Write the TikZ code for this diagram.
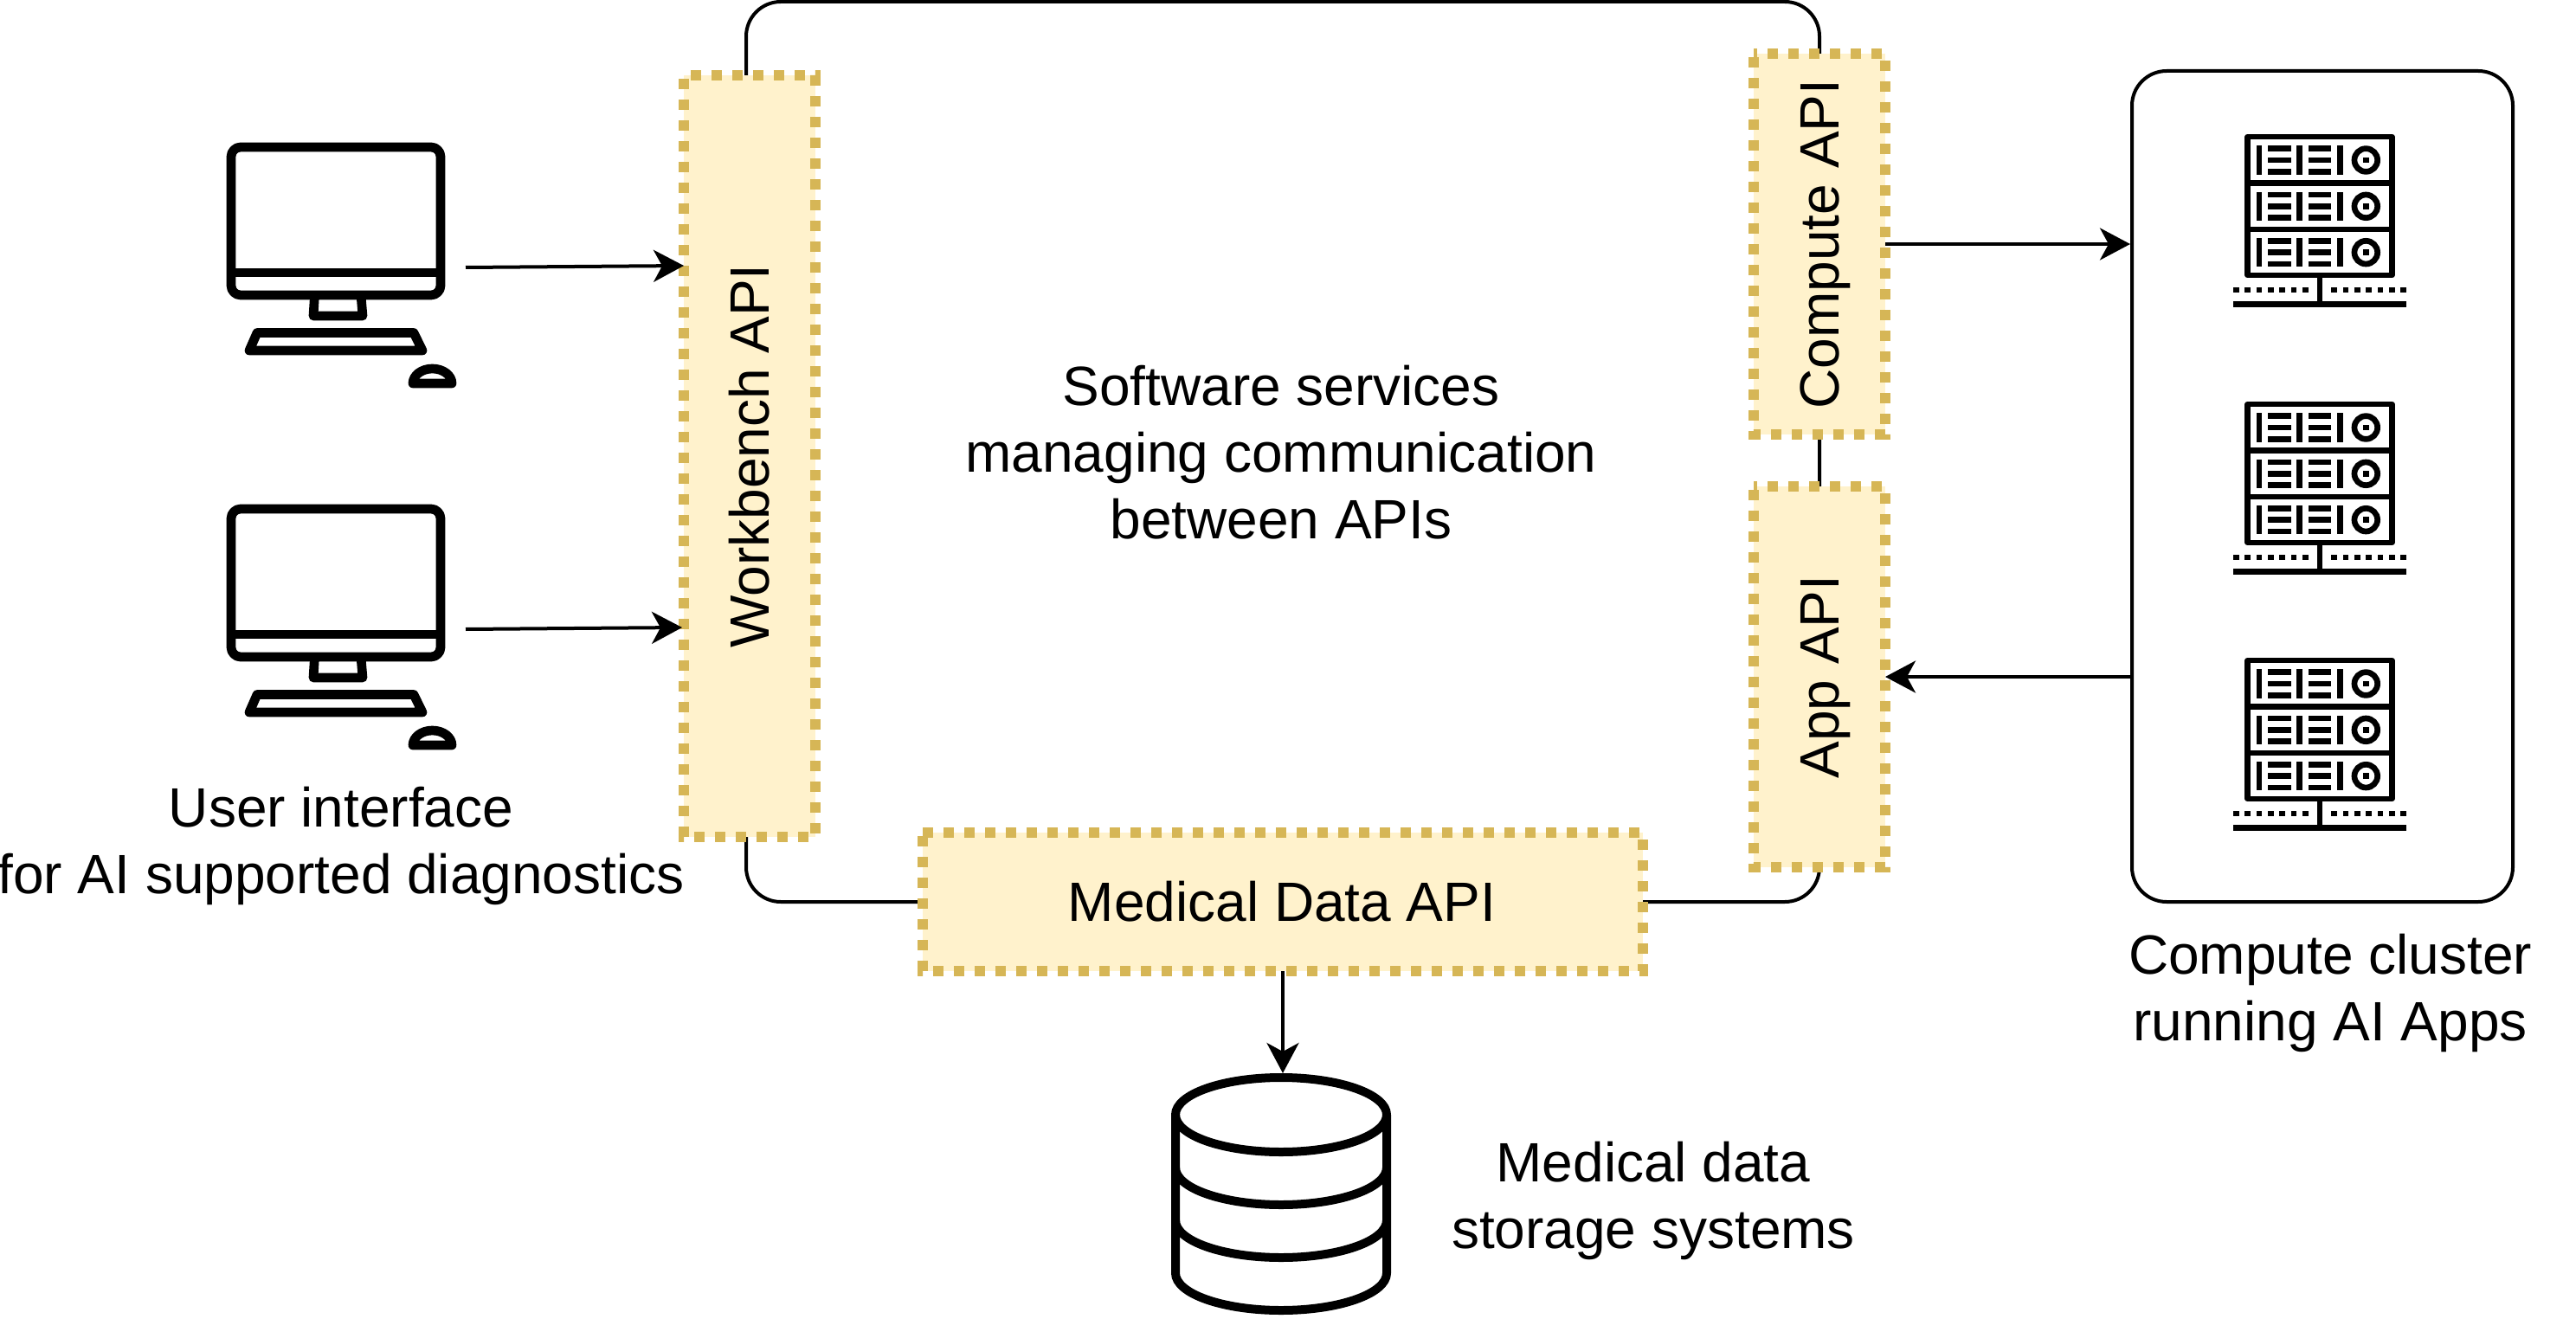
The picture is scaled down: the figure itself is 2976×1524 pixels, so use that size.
\documentclass[tikz,border=0pt]{standalone}
\usepackage{graphicx}
\usepackage{fontspec}
\setmainfont{Liberation Sans}
\usetikzlibrary{arrows.meta,calc}
\definecolor{apifill}{HTML}{FFF2CC}
\definecolor{apiline}{HTML}{D6B656}
\newcommand{\lstrut}{\rule[-.212em]{0pt}{1.117em}}
\newcommand{\vtext}[1]{\rotatebox{90}{\lstrut #1}}
\tikzset{
  lbl/.style={inner sep=0pt,outer sep=0pt,align=center,font=\fontsize{32}{38.5}\selectfont},
  apibox/.style={lbl,fill=apifill},
  apiborder/.style={draw=apiline,line width=6pt,dash pattern=on 6pt off 6pt},
  frame/.style={draw=black,line width=2pt,rounded corners=20pt,inner sep=0pt,outer sep=0pt},
  iconarea/.style={inner sep=0pt,outer sep=0pt},
  conn/.style={draw=black,line width=2pt},
  arrowc/.style={conn,-{Stealth[length=17.5pt,width=18.5pt,inset=5pt]}},
  iconline/.style={draw=black,line width=5.35pt,line join=round},
}
\newcommand{\pcicon}[1]{%
  \begin{scope}[shift={(0,#1)}]
    \draw[iconline,rounded corners=5.5pt] (267,170) rectangle (509,341);
    \draw[iconline] (267,315) -- (509,315);
    \draw[iconline] (363.5,341) -- (362,365) -- (419,365) -- (417,341);
    \draw[iconline] (297,384.5) -- (478,384.5) -- (488,405) -- (288,405) -- cycle;
    \draw[iconline] (477,443) arc[start angle=180,end angle=0,x radius=11.25pt,y radius=8.5pt] -- cycle;
  \end{scope}}
\newcommand{\servericon}[1]{%
  \begin{scope}[shift={(0,#1)}]
    \draw[black,line width=3.35pt,line join=round] (2596.7,158) rectangle (2763.3,318);
    \foreach \yy in {211.7,265} {\draw[black,line width=3.35pt] (2596.7,\yy) -- (2763.3,\yy);}
    \foreach \rr in {0,53.33,106.67} {
      \begin{scope}[shift={(0,\rr)}]
        \foreach \xx in {2606.7,2653.3,2700} {\fill[black] (\xx,168.3) rectangle ++(6.67,33.33);}
        \foreach \xx in {2620,2666.7} {
          \foreach \yy in {168.3,181.6,194.9} {\fill[black] (\xx,\yy) rectangle ++(26.67,6.67);}
        }
        \draw[black,line width=3.35pt] (2733.3,185) circle[radius=6.67pt];
        \fill[black] (2730,181.7) rectangle ++(6.67,6.67);
      \end{scope}
    }
    \draw[black,line width=3.35pt] (2680,318) -- (2680,351.7);
    \fill[black] (2580,348.3) rectangle (2780,355);
    \foreach \ii in {0,...,6} {
      \fill[black] ({2580+\ii*13.33},331.7) rectangle ++(6.67,6.67);
      \fill[black] ({2693.3+\ii*13.33},331.7) rectangle ++(6.67,6.67);
    }
  \end{scope}}
\begin{document}
\begin{tikzpicture}[x=0.5pt,y=-0.5pt]
\useasboundingbox (0,0) rectangle (2976,1524);
\fill[white] (0,0) rectangle (2976,1524);

% main services frame
\node[frame,lbl,minimum width=620pt,minimum height=520pt] (services) at (1482,522)
  {\hspace*{-2pt}\raisebox{0pt}[\dimexpr\height+7.6pt\relax][\depth]{\begin{tabular}{@{}c@{}}Software services\\managing communication\\between APIs\end{tabular}}};

% cluster frame
\node[frame,minimum width=220pt,minimum height=480pt] (cluster) at (2683,562) {};

% icon areas
\node[iconarea,minimum width=138pt,minimum height=144pt] (pcone) at (400,309) {};
\node[iconarea,minimum width=138pt,minimum height=144pt] (pctwo) at (400,727) {};
\node[iconarea,minimum width=122pt,minimum height=139.5pt] (db) at (1480,1379.5) {};

% API boxes
\node[apibox,minimum width=76pt,minimum height=440pt] (wb) at (866,527) {\vtext{Workbench API}};
\node[apibox,minimum width=76pt,minimum height=220pt] (compute) at (2102,282) {\vtext{Compute API}};
\node[apibox,minimum width=76pt,minimum height=220pt] (app) at (2102,782) {\vtext{App API}};
\node[apibox,minimum width=416pt,minimum height=80pt] (med) at (1482,1042) {\hspace*{-1pt}\lstrut Medical Data API};

\draw[apiborder,dash phase=8pt] (wb.north west) -- (wb.north east) -- (wb.south east) -- (wb.south west) -- cycle;
\draw[apiborder,dash phase=4pt] (compute.north west) -- (compute.north east) -- (compute.south east) -- (compute.south west) -- cycle;
\draw[apiborder,dash phase=4pt] (app.north west) -- (app.north east) -- (app.south east) -- (app.south west) -- cycle;
\draw[apiborder] (med.north west) -- (med.north east) -- (med.south east) -- (med.south west) -- cycle;

% connector ends
\coordinate (wbinone) at (790,307);
\coordinate (wbintwo) at (788,725);

% connectors
\draw[arrowc] (pcone.east) -- (wbinone);
\draw[arrowc] (pctwo.east) -- (wbintwo);
\draw[arrowc,shorten >=1pt] (compute.east) -- (compute.east -| cluster.west);
\draw[arrowc] (app.east -| cluster.west) -- (app.east);
\draw[arrowc] (med.south) -- (med.south |- db.north);

% icons
\pcicon{0}
\pcicon{418}
\servericon{0}
\servericon{309}
\servericon{605}
\draw[iconline,line width=5pt] (1480,1288) ellipse[x radius=61pt,y radius=21.5pt];
\draw[iconline,line width=5pt] (1358,1288) -- (1358,1471) arc[start angle=180,end angle=360,x radius=61pt,y radius=21.5pt] -- (1602,1288);
\draw[iconline,line width=5pt] (1358,1349) arc[start angle=180,end angle=360,x radius=61pt,y radius=21.5pt];
\draw[iconline,line width=5pt] (1358,1410) arc[start angle=180,end angle=360,x radius=61pt,y radius=21.5pt];

% labels
\node[lbl] (uilabel) at (394,977) {User interface\\for AI supported diagnostics};
\node[lbl] (clusterlabel) at (2692,1147) {Compute cluster\\running AI Apps};
\node[lbl] (dblabel) at (1910,1387) {Medical data\\storage systems};
\end{tikzpicture}
\end{document}
